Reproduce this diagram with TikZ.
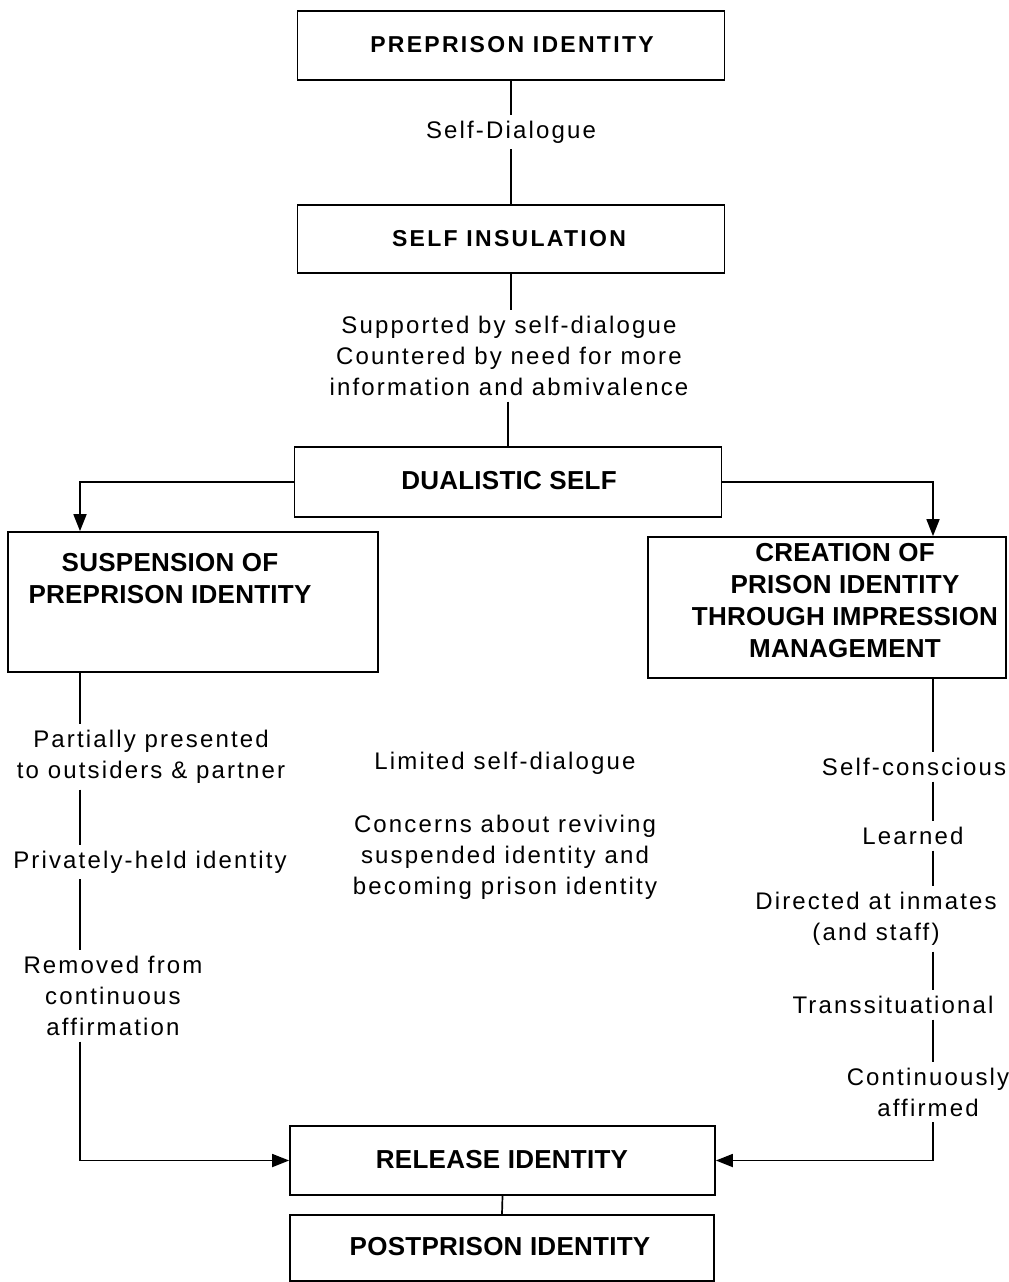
\documentclass[tikz,border=0pt]{standalone}
\usepackage{fontspec}
\setmainfont{Liberation Sans}[LetterSpace=9]
\newfontfamily\boxfont{Liberation Sans}[LetterSpace=1]
\newfontfamily\topfont{Liberation Sans}[LetterSpace=10]
\usetikzlibrary{arrows.meta}
\begin{document}
\begin{tikzpicture}[x=1pt,y=-1pt,
  line width=1.7pt,
  boxstyle/.style={draw, line width=1.7pt, inner sep=0pt},
  toplbl/.style={font=\topfont\bfseries\fontsize{23}{30}\selectfont, align=center, inner sep=0pt},
  boxlbl/.style={font=\boxfont\bfseries\fontsize{26}{32}\selectfont, align=center, inner sep=0pt},
  txt/.style={font=\fontsize{24}{31}\selectfont, align=center, inner sep=5pt},
  arr/.style={-{Triangle[width=13pt,length=17pt]}}
]
\useasboundingbox (0,0) rectangle (1009,1282);
% boxes
\node[boxstyle, minimum width=427pt, minimum height=69pt] (pre) at (511,45.5) {};
\node[toplbl] (pretext) at (512,45) {PREPRISON IDENTITY};
\node[boxstyle, minimum width=427pt, minimum height=68pt] (ins) at (511,239) {};
\node[toplbl] (instext) at (509,239) {SELF INSULATION};
\node[boxstyle, minimum width=427pt, minimum height=70pt] (dual) at (508,482) {};
\node[boxlbl] (dualtext) at (509,481) {DUALISTIC SELF};
\node[boxstyle, minimum width=370pt, minimum height=140pt] (susp) at (193,602) {};
\node[boxlbl] (susptext) at (170,579) {SUSPENSION OF\\PREPRISON IDENTITY};
\node[boxstyle, minimum width=358pt, minimum height=141pt] (crea) at (827,607.5) {};
\node[boxlbl] (creatext) at (845,600.5) {CREATION OF\\PRISON IDENTITY\\THROUGH IMPRESSION\\MANAGEMENT};
\node[boxstyle, minimum width=425pt, minimum height=69pt] (rel) at (502.5,1160.5) {};
\node[boxlbl] (reltext) at (502,1160) {RELEASE IDENTITY};
\node[boxstyle, minimum width=424pt, minimum height=66pt] (post) at (502,1248) {};
\node[boxlbl] (posttext) at (500,1247) {POSTPRISON IDENTITY};
% centre texts
\node[txt] (sd) at (511,132) {Self-Dialogue};
\node[txt] (sup) at (509,356) {Supported by self-dialogue\\Countered by need for more\\information and abmivalence};
\node[txt] (lim) at (505,763) {Limited self-dialogue};
\node[txt] (conc) at (505,857) {Concerns about reviving\\suspended identity and\\becoming prison identity};
% left column
\coordinate (lx) at (80,0);
\node[txt] (pp) at (151,757) {Partially presented\\to outsiders \& partner};
\node[txt] (priv) at (150,862) {Privately-held identity};
\node[txt] (rem) at (113,996) {Removed from\\continuous\\affirmation};
% right column
\coordinate (rx) at (933,0);
\node[txt] (sc) at (914,767) {Self-conscious};
\node[txt] (le) at (913,836) {Learned};
\node[txt] (dir) at (876,919) {Directed at inmates\\(and staff)};
\node[txt] (tr) at (893,1005) {Transsituational};
\node[txt] (co) at (928,1092) {Continuously\\affirmed};
% connectors
\draw (pre.south) -- (sd.north -| pre.south);
\draw (sd.south -| pre.south) -- (ins.north);
\draw (ins.south) -- (sup.north -| ins.south);
\draw (sup.south -| dual.north) -- (dual.north);
\draw[arr] (dual.west) -| (susp.north -| lx);
\draw[arr] (dual.east) -| (crea.north -| rx);
\draw (susp.south -| lx) -- (pp.north -| lx);
\draw (pp.south -| lx) -- (priv.north -| lx);
\draw (priv.south -| lx) -- (rem.north -| lx);
\draw[arr] (rem.south -| lx) |- (rel.west);
\draw (crea.south -| rx) -- (sc.north -| rx);
\draw (sc.south -| rx) -- (le.north -| rx);
\draw (le.south -| rx) -- (dir.north -| rx);
\draw (dir.south -| rx) -- (tr.north -| rx);
\draw (tr.south -| rx) -- (co.north -| rx);
\draw[arr] (co.south -| rx) |- (rel.east);
\draw (rel.south) -- (post.north);
\end{tikzpicture}
\end{document}
